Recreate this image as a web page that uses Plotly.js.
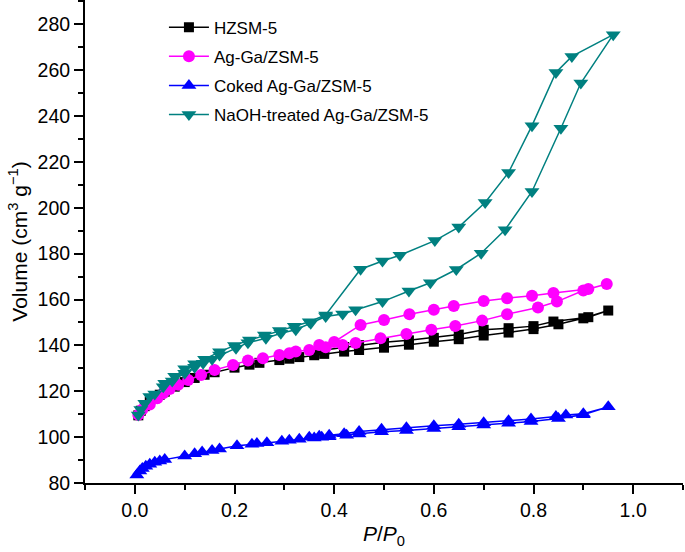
<!DOCTYPE html>
<html>
<head>
<meta charset="utf-8">
<script src="https://cdn.plot.ly/plotly-3.0.1.min.js"></script>
<style>html,body{margin:0;padding:0;background:#fff;}#chart{width:685px;height:552px;}</style>
</head>
<body>
<div id="chart"></div>
<script>
// HZSM-5: adsorption then desorption branch
const hzsmX = [0.007,0.012,0.02,0.03,0.04,0.05,0.06,0.08,0.1,0.12,0.14,0.16,0.2,0.23,0.25,0.29,0.31,0.33,0.36,0.38,0.42,0.45,0.5,0.55,0.6,0.65,0.7,0.75,0.8,0.85,0.9,0.95,
               0.91,0.84,0.8,0.75,0.7,0.65,0.6,0.55,0.5,0.45,0.42,0.38,0.36];
const hzsmY = [109.5,111.5,113.5,115.5,117,118.5,119.8,122,124,125.8,127.2,128.3,130.3,131.6,132.4,133.6,134.2,134.9,135.7,136.3,137.3,138,139,140.3,141.6,142.7,144.3,145.6,147.1,149.2,151.8,155.2,
               152.3,150.4,148.4,147.5,146.8,144.7,143.3,142.2,141.4,140.1,139.3,138.0,136.6];

// Ag-Ga/ZSM-5
const aggaX = [0.007,0.015,0.03,0.045,0.057,0.07,0.087,0.107,0.133,0.16,0.197,0.227,0.257,0.29,0.31,0.323,0.35,0.383,0.417,0.443,0.493,0.545,0.595,0.643,0.697,0.747,0.809,0.847,0.9,0.947,
               0.91,0.84,0.797,0.747,0.7,0.64,0.6,0.551,0.5,0.453,0.4,0.37];
const aggaY = [109.7,112,114.2,117,119.1,121,122.8,124.9,127.1,129.3,131.5,133.4,134.4,135.8,136.6,137.3,138,139.2,140.2,141,143.1,145,146.8,148.5,150.8,153.6,156.5,159.1,163.9,166.8,
               164.6,162.8,161.6,160.6,159.4,157.2,155.5,153.6,151.1,148.9,141.5,140.2];

// Coked Ag-Ga/ZSM-5
const cokedX = [0.004,0.01,0.015,0.022,0.03,0.04,0.05,0.06,0.1,0.12,0.135,0.155,0.17,0.205,0.235,0.245,0.265,0.295,0.31,0.33,0.36,0.375,0.39,0.425,0.45,0.495,0.545,0.6,0.65,0.7,0.75,0.795,0.85,0.9,0.95,
                0.9,0.865,0.845,0.795,0.75,0.7,0.65,0.6,0.545,0.495,0.45,0.42,0.39,0.37,0.35];
const cokedY = [83.5,85.2,86.3,87.3,88.2,89,89.6,90.2,91.8,92.7,93.5,94.2,94.8,96.2,96.9,97.2,97.6,98.2,98.6,99.1,99.6,99.9,100.2,100.8,101.4,102.3,102.9,103.8,104.5,105.3,106,106.8,108.1,109.8,113.2,
                110.2,109.7,109,107.9,107.1,106.3,105.6,105,104.1,103.4,102.5,101.5,100.8,100.4,100.0];

// NaOH-treated Ag-Ga/ZSM-5
const naohX = [0.007,0.012,0.02,0.03,0.04,0.057,0.075,0.1,0.12,0.137,0.155,0.17,0.203,0.227,0.263,0.293,0.323,0.353,0.383,0.417,0.443,0.497,0.55,0.593,0.645,0.695,0.743,0.797,0.855,0.895,0.96,
               0.877,0.845,0.797,0.75,0.703,0.65,0.602,0.532,0.497,0.453,0.383,0.35,0.32,0.29,0.26,0.23,0.2,0.17,0.14,0.12,0.1,0.08,0.06];
const naohY = [109.7,112,114.8,117.7,118.8,122,124.5,127.9,130.5,132.2,134,135.8,138.8,141.2,143.1,145.3,146.8,149.7,152.6,153.7,155.5,159.1,163.7,167.3,173.1,180.2,190.4,207.1,234.7,254.4,275.5,
               266.0,259.0,235.8,215.4,202.3,191.6,185.7,179.3,176.8,173.2,153.3,150.3,148.3,146.5,144.5,142.3,140,137.2,134,132,129.8,126.5,123.5];

const names = ['HZSM-5','Ag-Ga/ZSM-5','Coked Ag-Ga/ZSM-5','NaOH-treated Ag-Ga/ZSM-5'];
const colors = ['#000000','#FF00FF','#0000FF','#008080'];
const symbols = ['square','circle','triangle-up','triangle-down'];
const sizes = [10,12,13,13];
const xs = [hzsmX, aggaX, cokedX, naohX];
const ys = [hzsmY, aggaY, cokedY, naohY];

const font = 'Arial, "Liberation Sans", Helvetica, sans-serif';
const traces = names.map((n,i)=>({
  type:'scatter', mode:'lines+markers', name:n, x:xs[i], y:ys[i],
  legendgroup:'g'+i,
  line:{color:colors[i], width:1.5},
  marker:{symbol:symbols[i], color:colors[i], size:sizes[i], line:{width:0}}
}));

const layout = {
  width:685, height:552,
  margin:{l:85, r:2, t:0, b:69},
  paper_bgcolor:'#fff', plot_bgcolor:'#fff',
  font:{family:font, size:17, color:'#000'},
  showlegend:true,
  legend:{x:0.132, y:0.98, xanchor:'left', yanchor:'top', bgcolor:'rgba(0,0,0,0)',
          font:{family:font, size:17, color:'#000'}, tracegroupgap:4, itemwidth:40},
  xaxis:{range:[-0.1,1.1], tickvals:[0,0.2,0.4,0.6,0.8,1.0], ticktext:['0.0','0.2','0.4','0.6','0.8','1.0'],
         ticks:'outside', ticklen:9, tickwidth:2, tickcolor:'#000',
         minor:{dtick:0.1, tick0:0, ticks:'outside', ticklen:5, tickwidth:2, tickcolor:'#000'},
         showline:true, linecolor:'#000', linewidth:2, showgrid:false, zeroline:false,
         tickfont:{family:font, size:19.5, color:'#000'},
         title:{text:'<i>P</i>/<i>P</i><sub>0</sub>', font:{family:font, size:21, color:'#000'}, standoff:6}},
  yaxis:{range:[80,290.6], tickvals:[80,100,120,140,160,180,200,220,240,260,280],
         ticks:'outside', ticklen:9, tickwidth:2, tickcolor:'#000',
         minor:{dtick:10, tick0:0, ticks:'outside', ticklen:5, tickwidth:2, tickcolor:'#000'},
         showline:true, linecolor:'#000', linewidth:2, showgrid:false, zeroline:false,
         tickfont:{family:font, size:19.5, color:'#000'},
         title:{text:'Volume (cm<sup>3</sup> g<sup>−1</sup>)', font:{family:font, size:21, color:'#000'}, standoff:4}}
};

Plotly.newPlot('chart', traces, layout, {displayModeBar:false, staticPlot:true});
</script>
</body>
</html>
